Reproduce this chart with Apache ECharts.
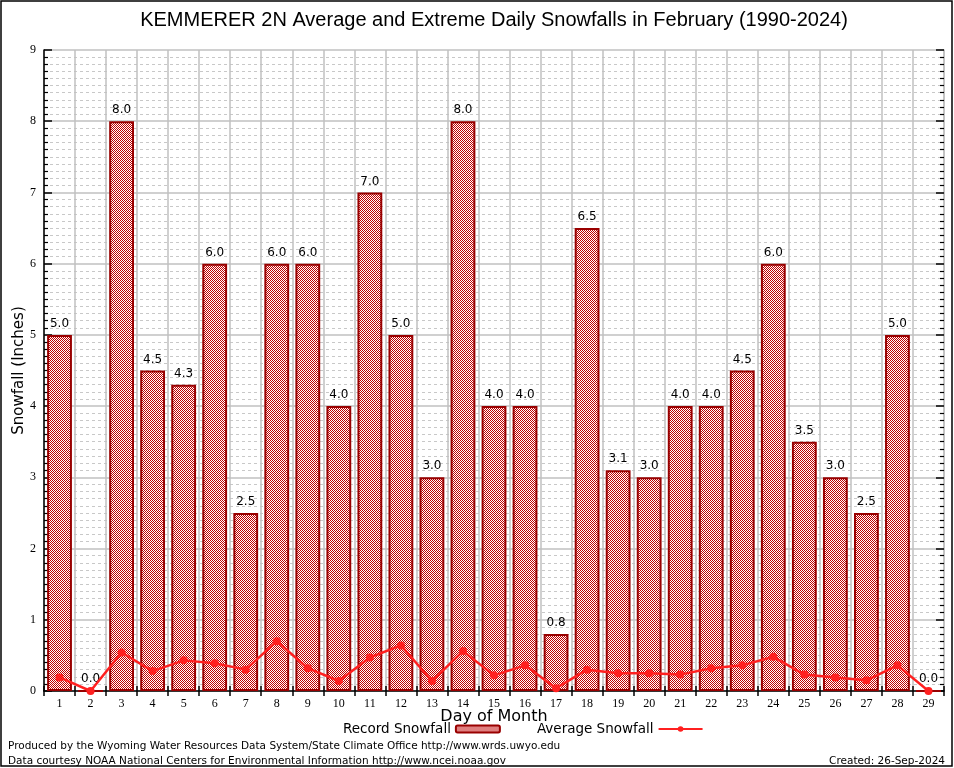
<!DOCTYPE html>
<html>
<head>
<meta charset="utf-8">
<script src="https://cdn.jsdelivr.net/npm/echarts@6/dist/echarts.min.js"></script>
<style>html,body{margin:0;padding:0;background:#fff}#c{width:954px;height:768px}</style>
</head>
<body>
<div id="c"></div>
<script>
const days = ['1','2','3','4','5','6','7','8','9','10','11','12','13','14','15','16','17','18','19','20','21','22','23','24','25','26','27','28','29'];
const recordSnowfall = [5.0,0.0,8.0,4.5,4.3,6.0,2.5,6.0,6.0,4.0,7.0,5.0,3.0,8.0,4.0,4.0,0.8,6.5,3.1,3.0,4.0,4.0,4.5,6.0,3.5,3.0,2.5,5.0,0.0];
const averageSnowfall = [0.19,0.0,0.54,0.28,0.43,0.39,0.30,0.70,0.32,0.14,0.47,0.64,0.14,0.56,0.22,0.36,0.04,0.30,0.25,0.25,0.23,0.32,0.36,0.48,0.23,0.19,0.15,0.36,0.0];
const yTicks = [0,1,2,3,4,5,6,7,8,9];

const pc = document.createElement('canvas');
pc.width = 2; pc.height = 2;
const g = pc.getContext('2d');
g.fillStyle = '#ffffff'; g.fillRect(0,0,2,2);
g.fillStyle = '#c00000'; g.fillRect(0,0,1,1); g.fillRect(1,1,1,1);

const chart = echarts.init(document.getElementById('c'), null, {renderer:'canvas'});
const sans = 'DejaVu Sans';
const serif = 'Liberation Serif';
chart.setOption({
  animation: false,
  backgroundColor: '#fff',
  title: [
    {text: 'KEMMERER 2N Average and Extreme Daily Snowfalls in February (1990-2024)', left: 489, textAlign: 'center', top: 5,
     textStyle: {fontFamily: 'Liberation Sans', fontSize: 20, fontWeight: 'normal', color: '#000'}},
    {text: 'Produced by the Wyoming Water Resources Data System/State Climate Office http://www.wrds.uwyo.edu', left: 3, top: 736, padding: 5,
     textStyle: {fontFamily: sans, fontSize: 10.5, fontWeight: 'normal', color: '#000'}},
    {text: 'Data courtesy NOAA National Centers for Environmental Information http://www.ncei.noaa.gov', left: 3, top: 751, padding: 5,
     textStyle: {fontFamily: sans, fontSize: 10.5, fontWeight: 'normal', color: '#000'}},
    {text: 'Created: 26-Sep-2024', right: 4, top: 751, padding: 5,
     textStyle: {fontFamily: sans, fontSize: 10.5, fontWeight: 'normal', color: '#000'}}
  ],
  graphic: [{type: 'rect', shape: {x: 1, y: 1, width: 951, height: 765}, style: {fill: null, stroke: '#000', lineWidth: 1.5}, silent: true}],
  legend: {
    left: 338, top: 717, align: 'right', itemGap: 36, itemWidth: 44, itemHeight: 7,
    textStyle: {fontFamily: sans, fontSize: 13.5, color: '#000'},
    data: ['Record Snowfall', 'Average Snowfall']
  },
  grid: {left: 44, right: 10, top: 50, bottom: 77, containLabel: false, outerBoundsMode: 'none'},
  xAxis: [
    {type: 'category', data: days, boundaryGap: true,
     name: 'Day of Month', nameLocation: 'middle', nameGap: 18, nameMoveOverlap: false,
     nameTextStyle: {fontFamily: sans, fontSize: 16, color: '#000'},
     axisLine: {lineStyle: {color: '#000', width: 1.5}},
     axisTick: {show: true, inside: true, length: 5, lineStyle: {color: '#000', width: 1.5}},
     axisLabel: {fontFamily: serif, fontSize: 12, color: '#000', margin: 7},
     splitLine: {show: true, lineStyle: {color: '#c0c0c0', width: 1.5}}},
    {type: 'category', data: days, boundaryGap: true, position: 'top',
     axisLine: {show: false},
     axisTick: {show: true, inside: true, length: 5, lineStyle: {color: '#000', width: 1.5}},
     axisLabel: {show: false}, splitLine: {show: false}}
  ],
  yAxis: [
    {type: 'value', min: yTicks[0], max: yTicks[yTicks.length-1], interval: 1,
     name: 'Snowfall (Inches)', nameLocation: 'middle', nameGap: 17, nameMoveOverlap: false,
     nameTextStyle: {fontFamily: sans, fontSize: 15, color: '#000'},
     axisLine: {show: true, lineStyle: {color: '#000', width: 1.5}},
     axisTick: {show: true, inside: true, length: 8, lineStyle: {color: '#000', width: 1.5}},
     minorTick: {show: true, splitNumber: 10, length: 4, lineStyle: {color: '#000', width: 1.2}},
     axisLabel: {fontFamily: serif, fontSize: 12, color: '#000', margin: 8},
     splitLine: {show: true, lineStyle: {color: '#c0c0c0', width: 1.5}},
     minorSplitLine: {show: true, lineStyle: {color: '#c8c8c8', width: 1, type: [3, 3]}}},
    {type: 'value', min: yTicks[0], max: yTicks[yTicks.length-1], interval: 1, position: 'right',
     axisLine: {show: true, lineStyle: {color: '#c0c0c0', width: 1.5}},
     axisTick: {show: true, inside: true, length: 8, lineStyle: {color: '#000', width: 1.5}},
     minorTick: {show: true, splitNumber: 10, length: 4, lineStyle: {color: '#000', width: 1.2}},
     axisLabel: {show: false}, splitLine: {show: false}}
  ],
  series: [
    {name: 'Record Snowfall', type: 'bar', data: recordSnowfall, barWidth: '80%',
     itemStyle: {color: {image: pc, repeat: 'repeat'}, borderColor: '#990000', borderWidth: 2},
     label: {show: true, position: 'top', distance: 5, fontFamily: sans, fontSize: 12, color: '#000',
             formatter: p => p.value.toFixed(1)}},
    {name: 'Average Snowfall', type: 'line', data: averageSnowfall, z: 5,
     symbol: 'circle', symbolSize: 8,
     itemStyle: {color: '#ff2020'}, lineStyle: {color: '#ff2020', width: 2.5}}
  ]
});
</script>
</body>
</html>
